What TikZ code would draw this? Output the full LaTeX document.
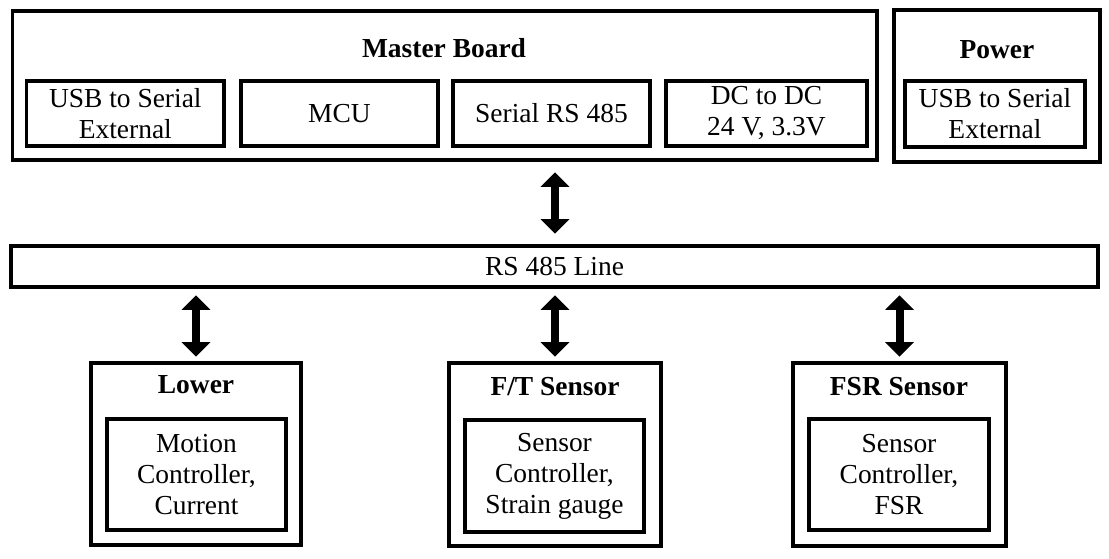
\documentclass[tikz,border=0pt]{standalone}
\usepackage{fontspec}
\setmainfont{Liberation Serif}
\usetikzlibrary{arrows.meta}

\begin{document}
\begin{tikzpicture}[x=0.75pt,y=0.75pt,yscale=-1,xscale=1,
  box/.style={draw, line width=2.4pt, inner sep=0pt, align=center, font=\fontsize{20.6}{23.25}\selectfont},
  title/.style={inner sep=0.75pt, font=\fontsize{20.6}{23.25}\selectfont\bfseries},
  biarrow/.style={line width=6pt, {Triangle[width=21pt,length=11pt]}-{Triangle[width=21pt,length=11pt]}}
]
\useasboundingbox (0,0) rectangle (1109,558);

%Shape: Rectangle (master board)
\node [box, minimum width=648.4pt, minimum height=111.75pt] (master) at (444.75,85.5) {};
%Shape: Rectangle (power)
\node [box, minimum width=154.5pt, minimum height=114pt] (power) at (997,86) {};

%Shape: Rectangle
\node [box, minimum width=148pt, minimum height=48.75pt] (usb) at (125.3,113.5) {USB to Serial\\External};
%Shape: Rectangle
\node [box, minimum width=147.75pt, minimum height=48.75pt] (mcu) at (339.5,113.5) {MCU};
%Shape: Rectangle
\node [box, minimum width=147.75pt, minimum height=48.75pt] (serial) at (551.5,113.5) {Serial RS 485};
%Shape: Rectangle
\node [box, minimum width=150.75pt, minimum height=48.75pt] (dcdc) at (766.5,113.5) {DC to DC\\24 V, 3.3V};
%Shape: Rectangle
\node [box, minimum width=135pt, minimum height=49.5pt] (pusb) at (995,114) {USB to Serial\\External};

%Shape: Rectangle (bus)
\node [box, minimum width=815.25pt, minimum height=30.75pt] (bus) at (554.5,266.5) {RS 485 Line};

%Shape: Rectangle (lower)
\node [box, minimum width=157.5pt, minimum height=136.5pt] (lower) at (196,454) {};
\node [box, minimum width=134.25pt, minimum height=83.25pt] (lowerin) at (196.5,474.5) {Motion\\Controller,\\Current};
%Shape: Rectangle (f/t sensor)
\node [box, minimum width=159pt, minimum height=137.25pt] (ft) at (555,454.5) {};
\node [box, minimum width=134.25pt, minimum height=84pt] (ftin) at (554.5,476) {Sensor\\Controller,\\Strain gauge};
%Shape: Rectangle (fsr sensor)
\node [box, minimum width=159.75pt, minimum height=137.25pt] (fsr) at (899.5,454.5) {};
\node [box, minimum width=135pt, minimum height=83.25pt] (fsrin) at (899,474.5) {Sensor\\Controller,\\FSR};

% Text Node
\node [title] (mastertitle) at (444,48) {Master Board};
% Text Node
\node [title] (powertitle) at (997,50) {Power};
% Text Node
\node [title] (lowertitle) at (196,385) {Lower};
% Text Node
\node [title] (fttitle) at (555,387) {F/T Sensor};
% Text Node
\node [title] (fsrtitle) at (899,387) {FSR Sensor};

%Double Arrows
\draw [biarrow, shorten <=8pt, shorten >=8pt] (master.south -| ft.north) -- (bus.north -| ft.north);
\draw [biarrow, shorten <=5pt, shorten >=3.5pt] (bus.south -| lower.north) -- (lower.north);
\draw [biarrow, shorten <=5pt, shorten >=3.5pt] (bus.south -| ft.north) -- (ft.north);
\draw [biarrow, shorten <=5pt, shorten >=3.5pt] (bus.south -| fsr.north) -- (fsr.north);

\end{tikzpicture}
\end{document}
